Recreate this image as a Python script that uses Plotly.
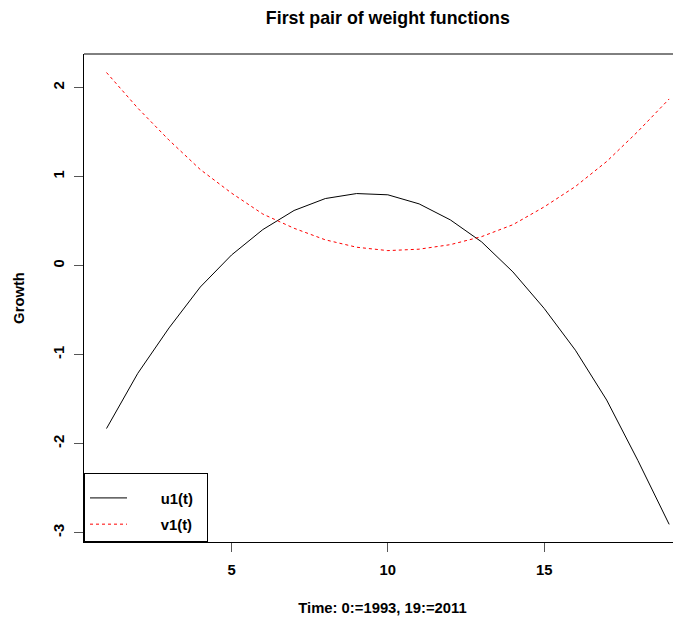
import plotly.graph_objects as go

# Data
t = list(range(1, 20))
u1 = [-1.83, -1.21, -0.70, -0.24, 0.12, 0.405, 0.62, 0.754, 0.81, 0.796,
      0.694, 0.514, 0.267, -0.07, -0.48, -0.95, -1.51, -2.19, -2.907]
v1 = [2.17, 1.77, 1.41, 1.08, 0.815, 0.58, 0.42, 0.29, 0.207, 0.169,
      0.185, 0.236, 0.326, 0.46, 0.66, 0.889, 1.17, 1.508, 1.873]
series_names = ["u1(t)", "v1(t)"]
x_ticks = [5, 10, 15]
y_ticks = [-3, -2, -1, 0, 1, 2]
y_ticktext = ["-3", "-2", "-1", "0", "1", "2"]

FONT = "Liberation Sans, Arial, Helvetica, sans-serif"
LEAD = "\u00a0" * 7
PAD = "\u00a0" * 2

fig = go.Figure()
fig.add_trace(go.Scatter(x=t, y=u1, mode="lines", name=LEAD + series_names[0] + PAD,
                         line=dict(color="black", width=1), legendgroup="a"))
fig.add_trace(go.Scatter(x=t, y=v1, mode="lines", name=LEAD + series_names[1] + PAD,
                         line=dict(color="red", width=1, dash="3px,3px"), legendgroup="b"))

# The page body has an 8px margin, so the figure is sized 8px smaller.
fig.update_layout(
    template="none",
    width=673, height=613,
    margin=dict(l=76, r=0, t=46, b=79, autoexpand=False),
    plot_bgcolor="white", paper_bgcolor="white",
    font=dict(family=FONT, size=14.8, color="black", weight="bold"),
    title=dict(text="<b>First pair of weight functions</b>", x=0.509, xanchor="center",
               xref="paper", y=1 - 10 / 613, yanchor="middle", automargin=False,
               font=dict(size=17.8, family=FONT, color="black")),
    showlegend=True,
    legend=dict(x=0, y=0, xanchor="left", yanchor="bottom",
                bordercolor="black", borderwidth=1, bgcolor="white",
                font=dict(size=14.8, family=FONT, color="black", weight="bold"),
                title=dict(text="\u00a0", font=dict(size=6)),
                tracegroupgap=4, itemwidth=37),
    xaxis=dict(range=[0.28, 19.378], tickvals=x_ticks, ticks="outside", ticklen=9,
               tickwidth=1, tickcolor="#555", showgrid=False, zeroline=False,
               showline=True, linecolor="black", linewidth=1, mirror=False,
               automargin=False, ticklabelstandoff=5,
               title=dict(text="<b>Time: 0:=1993, 19:=2011</b>", standoff=25,
                          font=dict(size=14.8, family=FONT))),
    yaxis=dict(range=[-3.105, 2.378], tickvals=y_ticks, ticktext=y_ticktext,
               ticks="outside", ticklen=9,
               tickwidth=1, tickcolor="#555", showgrid=False, zeroline=False,
               showline=True, linecolor="black", linewidth=1, mirror=False,
               tickangle=-90, automargin=False, ticklabelstandoff=4,
               title=dict(text="<b>Growth</b>", standoff=22,
                          font=dict(size=14.8, family=FONT))),
)
fig.add_shape(type="line", xref="paper", yref="paper", x0=0, x1=1, y0=1, y1=1,
              line=dict(color="black", width=1))

fig.write_html("out.html")
